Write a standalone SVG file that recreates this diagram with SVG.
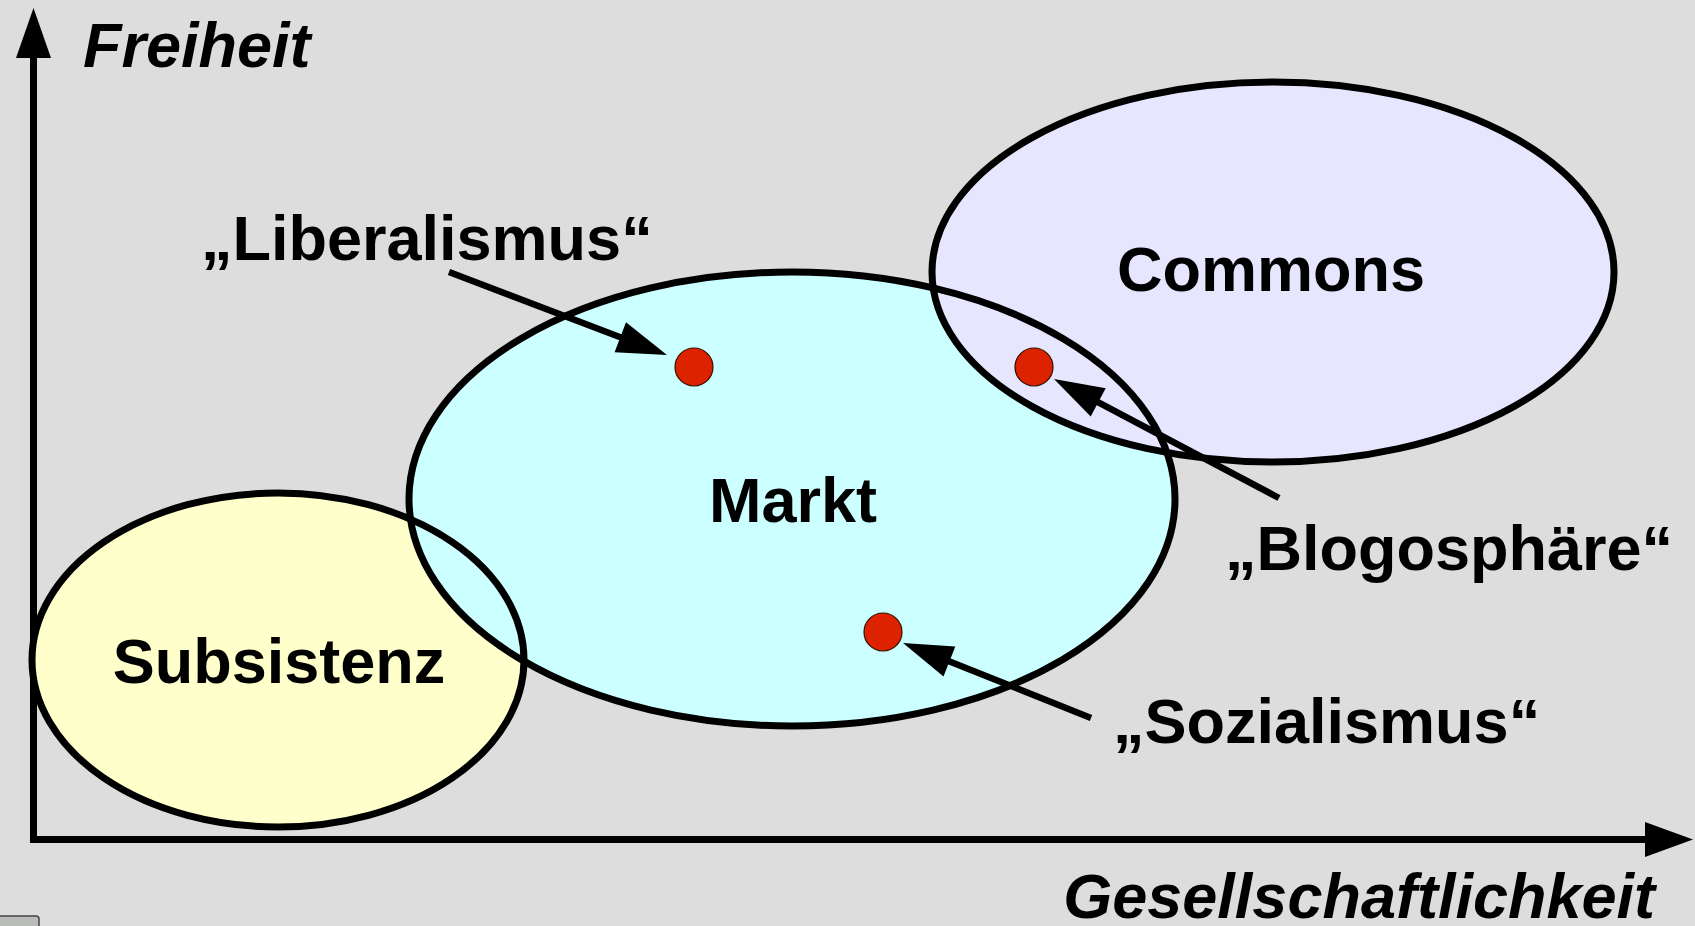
<svg xmlns="http://www.w3.org/2000/svg" width="1695" height="926" viewBox="0 0 1695 926">
<style>
.lbl{font-family:"Liberation Sans",Arial,sans-serif;font-weight:bold;font-size:63px;fill:#000}
.ax{font-family:"Liberation Sans",Arial,sans-serif;font-weight:bold;font-style:italic;font-size:63px;fill:#000}
.ol{fill:none;stroke:#000;stroke-width:7}
.dot{fill:#DD2200;stroke:#331100;stroke-width:1.2}
.con{stroke:#000;stroke-width:6.5;fill:none}
.head{fill:#000;stroke:none}
</style>
<rect x="0" y="0" width="1695" height="926" fill="#DDDDDD"/>
<g id="axes">
<path d="M33.5,55 V839.5 H1650" fill="none" stroke="#000" stroke-width="7"/>
<polygon class="head" points="33.5,8 16,58 51,58"/>
<polygon class="head" points="1693,839.5 1645,822 1645,857"/>
<text class="ax" x="83" y="67">Freiheit</text>
<text class="ax" x="1655" y="918" text-anchor="end">Gesellschaftlichkeit</text>
</g>
<g id="fills">
<ellipse cx="278" cy="660" rx="246" ry="167" fill="#FFFFCC"/>
<ellipse cx="792" cy="499" rx="383" ry="227" fill="#CCFFFF"/>
<ellipse cx="1273" cy="272" rx="341" ry="190" fill="#E6E6FF"/>
</g>
<g id="subsistenz">
<ellipse class="ol" cx="278" cy="660" rx="246" ry="167"/>
<text class="lbl" x="279" y="683" text-anchor="middle">Subsistenz</text>
</g>
<g id="markt">
<ellipse class="ol" cx="792" cy="499" rx="383" ry="227"/>
<text class="lbl" x="793" y="522" text-anchor="middle">Markt</text>
</g>
<g id="commons">
<ellipse class="ol" cx="1273" cy="272" rx="341" ry="190"/>
<text class="lbl" x="1271" y="291" text-anchor="middle">Commons</text>
</g>
<g id="dot-liberalismus"><circle class="dot" cx="694" cy="367" r="19"/></g>
<g id="dot-blogosphaere"><circle class="dot" cx="1034" cy="367" r="19"/></g>
<g id="dot-sozialismus"><circle class="dot" cx="883" cy="632" r="19"/></g>
<g id="label-liberalismus"><text class="lbl" x="201" y="260">„Liberalismus“</text></g>
<g id="label-blogosphaere"><text class="lbl" x="1225" y="570">„Blogosphäre“</text></g>
<g id="label-sozialismus"><text class="lbl" x="1113" y="743">„Sozialismus“</text></g>
<g id="connectors">
<line class="con" x1="449" y1="272" x2="629.6" y2="340.8"/>
<polygon class="head" points="667,355 614.6,352.2 626,322.2"/>
<line class="con" x1="1279" y1="498" x2="1089.4" y2="397.7"/>
<polygon class="head" points="1054,379 1105.7,388.3 1090.7,416.5"/>
<line class="con" x1="1091" y1="718" x2="940.2" y2="657.8"/>
<polygon class="head" points="903,643 955.3,646.6 943.5,676.4"/>
</g>
<path d="M-5,916 H36 Q39,916 39,919 V932 H-5 Z" fill="#B8BCB8" stroke="#444" stroke-width="1.5"/>
</svg>
